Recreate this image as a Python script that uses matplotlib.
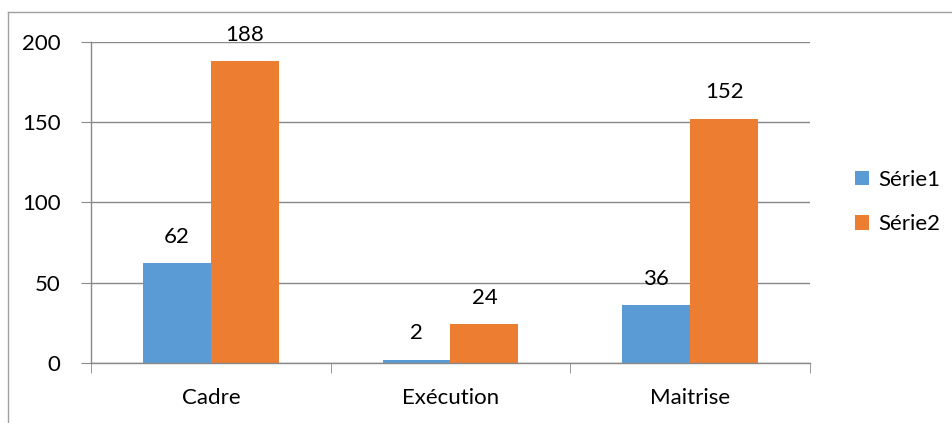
import matplotlib
matplotlib.use("Agg")
import matplotlib.pyplot as plt
from matplotlib.lines import Line2D
import numpy as np

categories = ["Cadre", "Exécution", "Maitrise"]
serie1 = [62, 2, 36]
serie2 = [188, 24, 152]
series_names = ["Série1", "Série2"]
y_ticks = [0, 50, 100, 150, 200]

blue = "#5B9BD5"
orange = "#ED7D31"
grid_col = "#898989"
fs = 16

plt.rcParams["font.family"] = ["Lato", "DejaVu Sans"]

fig = plt.figure(figsize=(9.53, 4.23), dpi=100)
ax = fig.add_axes([91 / 953, 60 / 423, 719 / 953, 321 / 423])

x = np.arange(len(categories))
w = 68 / 240
b1 = ax.bar(x - w / 2, serie1, w, color=blue, label=series_names[0])
b2 = ax.bar(x + w / 2, serie2, w, color=orange, label=series_names[1])

for bars, vals in ((b1, serie1), (b2, serie2)):
    for r, v in zip(bars, vals):
        ax.annotate(str(v), (r.get_x() + r.get_width() / 2, v),
                    xytext=(0, 12), textcoords="offset points",
                    ha="center", va="bottom", fontsize=fs, color="#000000")

ax.set_xlim(-0.5, len(categories) - 0.5)
ax.set_ylim(0, 200)
ax.set_yticks(y_ticks)
ax.set_yticklabels([str(t) for t in y_ticks], fontsize=fs)
ax.set_xticks(x)
ax.set_xticklabels(categories, fontsize=fs)
ax.tick_params(axis="x", length=0, pad=18)
ax.tick_params(axis="y", length=7, color=grid_col, pad=15)

# category boundary ticks along the bottom axis
ax.set_xticks(np.arange(len(categories) + 1) - 0.5, minor=True)
ax.tick_params(axis="x", which="minor", length=7, color=grid_col)

ax.yaxis.grid(True, color=grid_col, linewidth=1)
ax.set_axisbelow(True)
for s in ("top", "right"):
    ax.spines[s].set_visible(False)
for s in ("left", "bottom"):
    ax.spines[s].set_color(grid_col)
    ax.spines[s].set_linewidth(1)

leg = ax.legend(loc="center left", bbox_to_anchor=(835 / 953, 221 / 423),
                bbox_transform=fig.transFigure, frameon=False, fontsize=fs,
                handlelength=0.65, handleheight=0.65, handletextpad=0.4,
                labelspacing=1.1)

# chart frame
fig.add_artist(Line2D([8 / 953, 8 / 953], [0, 1 - 12 / 423],
                      transform=fig.transFigure, color="#A0A0A0", linewidth=1))
fig.add_artist(Line2D([8 / 953, 1], [1 - 12 / 423, 1 - 12 / 423],
                      transform=fig.transFigure, color="#A0A0A0", linewidth=1))

fig.savefig("out.png", dpi=100)
